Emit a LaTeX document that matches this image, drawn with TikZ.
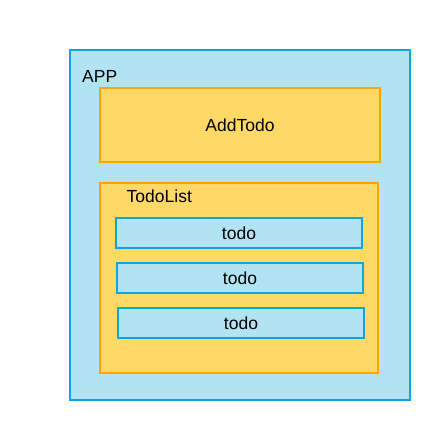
\documentclass[tikz,border=0pt]{standalone}
\usepackage{fontspec}
\setmainfont{Liberation Sans}
\definecolor{bfill}{HTML}{B1E3F3}
\definecolor{bdraw}{HTML}{10A5D9}
\definecolor{ofill}{HTML}{FFD966}
\definecolor{odraw}{HTML}{FFA500}
\begin{document}
\begin{tikzpicture}[x=1pt,y=-1pt,
  bluebox/.style={draw=bdraw,fill=bfill,line width=2pt},
  orangebox/.style={draw=odraw,fill=ofill,line width=2pt},
  lbl/.style={font=\fontsize{17.5}{20}\selectfont,inner sep=0pt}]
\useasboundingbox[fill=white] (0,0) rectangle (430,420);
\draw[bluebox] (70,50) rectangle (410,400);
\node[lbl,anchor=base west] (app) at (82,82.5) {APP};
\draw[orangebox] (100,88) rectangle (380,162);
\node[lbl] (addtodo) at (240,125) {AddTodo};
\draw[orangebox] (100,183) rectangle (378,373);
\node[lbl,anchor=base west] (todolist) at (126.5,202.5) {TodoList};
\draw[bluebox] (116,218) rectangle (362,248);
\node[lbl] (t1) at (239,233) {todo};
\draw[bluebox] (117,263) rectangle (363,293);
\node[lbl] (t2) at (240,278) {todo};
\draw[bluebox] (118,308) rectangle (364,338);
\node[lbl] (t3) at (241,323) {todo};
\end{tikzpicture}
\end{document}
